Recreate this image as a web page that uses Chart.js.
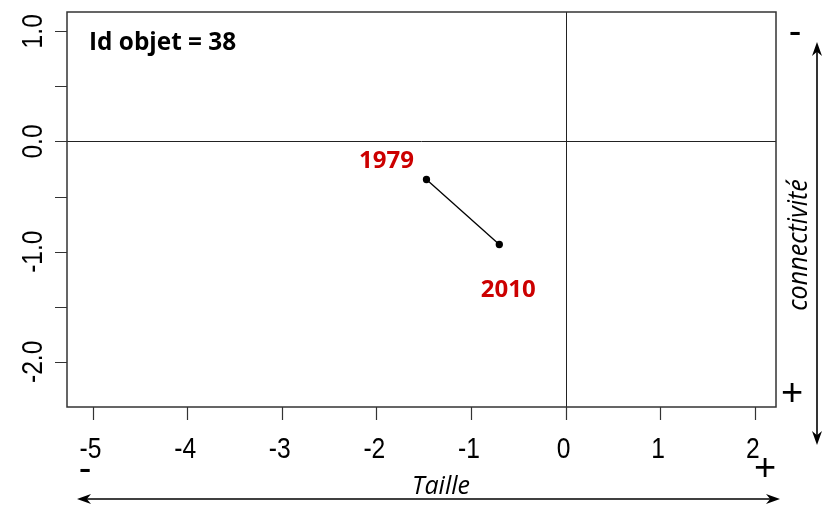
<!DOCTYPE html>
<html>
<head>
<meta charset="utf-8">
<script src="https://cdn.jsdelivr.net/npm/chart.js@4/dist/chart.umd.min.js"></script>
<style>
  html, body { margin: 0; padding: 0; background: #fff; }
  #wrap { width: 828px; height: 507px; position: relative; }
</style>
</head>
<body>
<div id="wrap"><canvas id="traj"></canvas></div>
<script>
// values
const years = ['1979', '2010'];
const taille = [-1.47, -0.70];
const connectivite = [-0.345, -0.935];
const xTicks = [-5, -4, -3, -2, -1, 0, 1, 2];
const yTicks = [1.0, 0.5, 0.0, -0.5, -1.0, -1.5, -2.0];
const yTickLabels = ['1.0', '', '0.0', '', '-1.0', '', '-2.0'];
const objectId = 38;

const pts = taille.map((t, i) => ({ x: t, y: connectivite[i] }));

// small helper: draw horizontally condensed text
function narrowText(ctx, txt, x, y, squeeze) {
  ctx.save();
  ctx.translate(x, y);
  ctx.scale(squeeze, 1);
  ctx.fillText(txt, 0, 0);
  ctx.restore();
}

function arrowHead(ctx, x, y, dx, dy) {
  // dx,dy = unit direction the arrow points to
  const L = 14, W = 5;
  const bx = x - dx * L, by = y - dy * L;
  const nx = -dy, ny = dx;
  ctx.beginPath();
  ctx.moveTo(x, y);
  ctx.lineTo(bx + nx * W, by + ny * W);
  ctx.lineTo(x - dx * L * 0.7, y - dy * L * 0.7);
  ctx.lineTo(bx - nx * W, by - ny * W);
  ctx.closePath();
  ctx.fill();
}

const framePlugin = {
  id: 'rframe',
  beforeDatasetsDraw(chart) {
    const { ctx, chartArea: a, scales: { x, y } } = chart;
    ctx.save();
    // zero lines
    ctx.strokeStyle = '#222';
    ctx.lineWidth = 1;
    const x0 = Math.round(x.getPixelForValue(0)) + 0.5;
    const y0 = Math.round(y.getPixelForValue(0)) + 0.5;
    ctx.beginPath();
    ctx.moveTo(x0, a.top); ctx.lineTo(x0, a.bottom);
    ctx.moveTo(a.left, y0); ctx.lineTo(a.right, y0);
    ctx.stroke();
    ctx.restore();
  },
  afterDraw(chart) {
    const { ctx, chartArea: a, scales: { x, y } } = chart;
    ctx.save();
    // box
    ctx.strokeStyle = '#333';
    ctx.lineWidth = 1.5;
    ctx.strokeRect(a.left, a.top, a.right - a.left, a.bottom - a.top);

    // tick marks
    ctx.lineWidth = 1.2;
    ctx.beginPath();
    xTicks.forEach(v => {
      const px = Math.round(x.getPixelForValue(v)) + 0.5;
      ctx.moveTo(px, a.bottom); ctx.lineTo(px, a.bottom + 13);
    });
    yTicks.forEach(v => {
      const py = Math.round(y.getPixelForValue(v)) + 0.5;
      ctx.moveTo(a.left - 12, py); ctx.lineTo(a.left, py);
    });
    ctx.stroke();

    // tick labels
    ctx.fillStyle = '#000';
    ctx.font = '30px "Liberation Sans", Arial, sans-serif';
    ctx.textAlign = 'center';
    ctx.textBaseline = 'alphabetic';
    xTicks.forEach(v => {
      narrowText(ctx, String(v), x.getPixelForValue(v) - 2, a.bottom + 51, 0.82);
    });
    yTicks.forEach((v, i) => {
      if (!yTickLabels[i]) return;
      ctx.save();
      ctx.translate(a.left - 25, y.getPixelForValue(v));
      ctx.rotate(-Math.PI / 2);
      ctx.scale(0.82, 1);
      ctx.fillText(yTickLabels[i], 0, 0);
      ctx.restore();
    });

    // title inside the box
    ctx.textAlign = 'left';
    ctx.font = 'bold 25px "Open Sans", sans-serif';
    narrowText(ctx, 'Id objet = ' + objectId, a.left + 22, a.top + 38, 0.975);

    // year labels next to the points
    const meta = chart.getDatasetMeta(0);
    const offs = [[-40, -11], [9, 53]];
    ctx.fillStyle = '#cc0000';
    ctx.textAlign = 'center';
    ctx.font = 'bold 24px "Open Sans", sans-serif';
    meta.data.forEach((p, i) => {
      ctx.fillText(years[i], p.x + offs[i][0], p.y + offs[i][1]);
    });

    // outside annotations: axis direction arrows and signs
    ctx.fillStyle = '#000';
    ctx.strokeStyle = '#000';
    ctx.lineWidth = 1.6;
    // horizontal arrow (Taille)
    const ay = 499;
    ctx.beginPath();
    ctx.moveTo(80, ay); ctx.lineTo(777, ay);
    ctx.stroke();
    arrowHead(ctx, 77, ay, -1, 0);
    arrowHead(ctx, 780, ay, 1, 0);
    // vertical arrow (connectivite)
    const ax = 817;
    ctx.beginPath();
    ctx.moveTo(ax, 45); ctx.lineTo(ax, 442);
    ctx.stroke();
    arrowHead(ctx, ax, 42, 0, -1);
    arrowHead(ctx, ax, 445, 0, 1);

    ctx.textAlign = 'center';
    ctx.font = 'italic 25px "Open Sans", sans-serif';
    ctx.fillText('Taille', 441, 494);
    ctx.save();
    ctx.translate(807, 245);
    ctx.rotate(-Math.PI / 2);
    ctx.font = 'italic 27px "Open Sans", sans-serif';
    narrowText(ctx, 'connectivité', 0, 0, 0.93);
    ctx.restore();

    ctx.font = '38px "Liberation Sans", Arial, sans-serif';
    ctx.fillText('-', 795, 44);
    ctx.fillText('+', 792, 405);
    ctx.fillText('-', 85, 481);
    ctx.fillText('+', 765, 480);
    ctx.restore();
  }
};

new Chart(document.getElementById('traj'), {
  type: 'scatter',
  data: {
    datasets: [{
      data: pts,
      showLine: true,
      borderColor: '#000',
      borderWidth: 1.3,
      pointRadius: 3,
      pointBackgroundColor: '#000',
      pointBorderColor: '#000',
      tension: 0
    }]
  },
  options: {
    responsive: true,
    maintainAspectRatio: false,
    animation: false,
    layout: { padding: { left: 67, right: 52, top: 12, bottom: 100 } },
    scales: {
      x: { type: 'linear', min: -5.27, max: 2.225, display: false },
      y: { type: 'linear', min: -2.41, max: 1.175, display: false }
    },
    plugins: {
      legend: { display: false },
      tooltip: { enabled: false }
    }
  },
  plugins: [framePlugin]
});
</script>
</body>
</html>
